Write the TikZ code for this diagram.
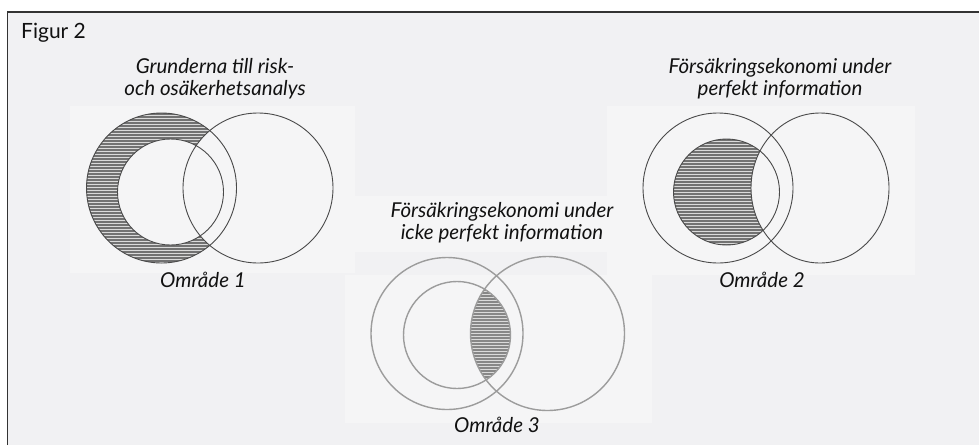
\documentclass[tikz,border=0pt]{standalone}
\usepackage{fontspec}
\setmainfont{Lato}
\begin{document}
\begin{tikzpicture}[x=1pt,y=-1pt,
  framebg/.style={fill=bgc},
  panel/.style={fill=panelc},
  ring/.style={draw=ringc,line width=0.9pt},
  ringlight/.style={draw=ringl,line width=1.4pt},
  hatchbg/.style={fill=hbg},
  hatchline/.style={draw=hln,line width=1.3pt},
  hatchlinelight/.style={draw=hln!85!white,line width=1.3pt},
  ttl/.style={font=\fontsize{20.5}{24}\selectfont\itshape,inner sep=0pt,anchor=base},
  fig/.style={font=\fontsize{21}{25}\selectfont,inner sep=0pt,anchor=base west}]
\definecolor{bgc}{HTML}{F1F1F3}
\definecolor{panelc}{HTML}{F5F5F6}
\definecolor{ringc}{HTML}{4A4A4A}
\definecolor{ringl}{HTML}{9C9C9C}
\definecolor{hbg}{HTML}{DADADA}
\definecolor{hln}{HTML}{727272}
\definecolor{txt}{HTML}{111111}
\useasboundingbox (0,0) rectangle (979,445);
\fill[white] (0,0) rectangle (979,445);
\fill[framebg] (7.5,12) rectangle (979,445);
\draw[line width=1.5pt,draw=black!80] (7.5,445) -- (7.5,12) -- (979,12);
% light panels
\fill[panel] (70,106) rectangle (355,273);
\fill[panel] (607,106) rectangle (915,275);
\fill[panel] (355,196) rectangle (607,252);
\fill[panel] (345,275) rectangle (652,423);
% ---------- diagram 1 ----------
\begin{scope}
  \clip (161.5,188) circle (75pt);
  \fill[hatchbg] (80,105) rectangle (245,270);
  \foreach \yy in {114,117,...,264} \draw[hatchline] (80,\yy) -- (245,\yy);
  \fill[panel] (170.5,192) circle (53pt);
  \fill[panel] (258,188) circle (75pt);
\end{scope}
\draw[ring] (161.5,188) circle (75pt);
\draw[ring] (258,188) circle (75pt);
\draw[ring] (170.5,192) circle (53pt);
% ---------- diagram 2 ----------
\begin{scope}
  \clip (726.5,192) circle (53pt);
  \fill[hatchbg] (670,135) rectangle (785,250);
  \foreach \yy in {140,143,...,246} \draw[hatchline] (670,\yy) -- (785,\yy);
  \fill[panel] (820,188) ellipse [x radius=69pt, y radius=75pt];
\end{scope}
\draw[ring] (718,188) circle (75pt);
\draw[ring] (820,188) ellipse [x radius=69pt, y radius=75pt];
\draw[ring] (726.5,192) circle (53pt);
% ---------- diagram 3 ----------
\begin{scope}
  \clip (457,335) circle (53.5pt);
  \clip (547.5,333.5) circle (77pt);
  \fill[hatchbg] (460,280) rectangle (515,392);
  \foreach \yy in {284,287,...,390} \draw[hatchlinelight] (460,\yy) -- (515,\yy);
\end{scope}
\draw[ringlight] (447,333.5) circle (76pt);
\draw[ringlight] (547.5,333.5) circle (77pt);
\draw[ringlight] (457,335) circle (53.5pt);
% ---------- texts ----------
\node[fig,text=txt] (fig) at (21,38) {Figur 2};
\node[ttl,text=txt] (t1a) at (215,73) {Grunderna till risk-};
\node[ttl,text=txt] (t1b) at (215,95) {och osäkerhetsanalys};
\node[ttl,text=txt] (t2a) at (780,73) {Försäkringsekonomi under};
\node[ttl,text=txt] (t2b) at (780,95) {perfekt information};
\node[ttl,text=txt] (t3a) at (502,217) {Försäkringsekonomi under};
\node[ttl,text=txt] (t3b) at (502,239) {icke perfekt information};
\node[ttl,text=txt] (o1) at (203,287) {Område 1};
\node[ttl,text=txt] (o2) at (762,287) {Område 2};
\node[ttl,text=txt] (o3) at (497,432) {Område 3};
\end{tikzpicture}
\end{document}
